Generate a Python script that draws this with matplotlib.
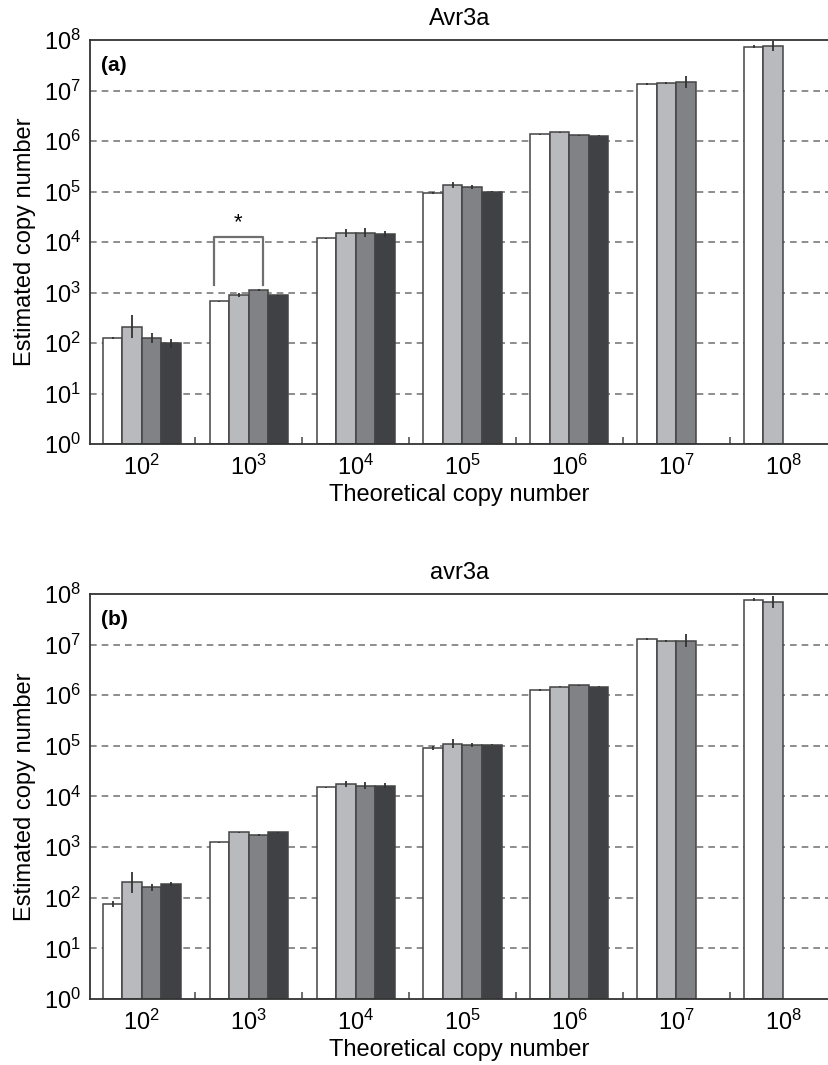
import numpy as np
import matplotlib
matplotlib.use("Agg")
import matplotlib.pyplot as plt
from matplotlib.ticker import FixedLocator, LogFormatterSciNotation, NullLocator

# ---------------- data ----------------
categories = ["$\\mathregular{10^{2}}$", "$\\mathregular{10^{3}}$", "$\\mathregular{10^{4}}$",
              "$\\mathregular{10^{5}}$", "$\\mathregular{10^{6}}$", "$\\mathregular{10^{7}}$",
              "$\\mathregular{10^{8}}$"]

nan = np.nan
# Panel (a) Avr3a
a_white = [126, 676, 1.20e4, 9.2e4, 1.35e6, 1.32e7, 7.4e7]
a_light = [209, 891, 1.52e4, 1.35e5, 1.48e6, 1.40e7, 7.7e7]
a_mid   = [126, 1120, 1.52e4, 1.25e5, 1.29e6, 1.49e7, nan]
a_dark  = [98, 880, 1.42e4, 1.00e5, 1.27e6, nan, nan]
# error half-widths in log10 units
a_white_err = [0.02, 0.01, 0.01, 0.02, 0.01, 0.02, 0.03]
a_light_err = [0.23, 0.04, 0.08, 0.06, 0.01, 0.02, 0.10]
a_mid_err   = [0.10, 0.02, 0.09, 0.04, 0.01, 0.12, nan]
a_dark_err  = [0.09, 0.01, 0.06, 0.01, 0.01, nan, nan]

# Panel (b) avr3a
b_white = [75, 1250, 1.52e4, 9.0e4, 1.28e6, 1.30e7, 7.7e7]
b_light = [199, 1960, 1.74e4, 1.11e5, 1.48e6, 1.20e7, 7.0e7]
b_mid   = [161, 1720, 1.62e4, 1.05e5, 1.58e6, 1.20e7, nan]
b_dark  = [184, 1950, 1.62e4, 1.05e5, 1.48e6, nan, nan]
b_white_err = [0.06, 0.01, 0.01, 0.04, 0.02, 0.02, 0.03]
b_light_err = [0.20, 0.01, 0.06, 0.08, 0.01, 0.02, 0.12]
b_mid_err   = [0.07, 0.02, 0.07, 0.04, 0.01, 0.12, nan]
b_dark_err  = [0.04, 0.01, 0.05, 0.01, 0.01, nan, nan]

# significance bracket (panel a): between white and mid-gray bar of 10^3 group
sig_group = 1
sig_top = 1.23e4
sig_leg_bottom = 1.4e3

colors = ["#ffffff", "#b9babd", "#818286", "#404144"]
edge = "#444444"

fig = plt.figure(figsize=(8.29, 10.65), dpi=100)
plt.rcParams["font.family"] = ["Liberation Sans", "DejaVu Sans"]

W = 0.183
offsets = [-1.5 * W, -0.5 * W, 0.5 * W, 1.5 * W]
FS = 17


def draw(ax, series, errs, title, label):
    x = np.arange(len(categories))
    for s, (vals, err, c, off) in enumerate(zip(series, errs, colors, offsets)):
        v = np.array(vals, dtype=float)
        e = np.array(err, dtype=float)
        m = ~np.isnan(v)
        ax.bar(x[m] + off, v[m], width=W, bottom=1, color=c, edgecolor=edge,
               linewidth=1.1, zorder=2)
        lo = v[m] - v[m] / 10 ** e[m]
        hi = v[m] * 10 ** e[m] - v[m]
        ax.errorbar(x[m] + off, v[m], yerr=[lo, hi], fmt="none", ecolor="#333333",
                    elinewidth=1.3, capsize=0, zorder=3)
    ax.set_yscale("log")
    ax.set_ylim(1, 1e8)
    ax.set_xlim(-0.49, 6.43)
    ax.yaxis.set_major_locator(FixedLocator([10.0 ** k for k in range(9)]))
    ax.yaxis.set_major_formatter(LogFormatterSciNotation())
    ax.yaxis.set_minor_locator(NullLocator())
    for k in range(1, 8):
        ax.axhline(10.0 ** k, color="#7a7a7a", linestyle=(0, (4, 3)), linewidth=1.2, zorder=1)
    ax.set_xticks(x)
    ax.set_xticklabels(categories)
    ax.set_xticks(x[:-1] + 0.5, minor=True)
    ax.tick_params(axis="x", which="major", length=0, labelsize=FS, pad=8)
    ax.tick_params(axis="x", which="minor", direction="in", length=5, width=1.2, color="#555555")
    ax.tick_params(axis="y", which="major", direction="in", length=0, labelsize=FS, pad=6)
    ax.spines["right"].set_visible(False)
    for sp in ["left", "bottom", "top"]:
        ax.spines[sp].set_linewidth(1.3)
        ax.spines[sp].set_color("#333333")
    ax.set_xlabel("Theoretical copy number", fontsize=FS, labelpad=3)
    ax.set_ylabel("Estimated copy number", fontsize=FS, labelpad=6)
    ax.set_title(title, fontsize=FS, pad=11)
    ax.text(0.015, 0.96, label, transform=ax.transAxes, fontsize=15, fontweight="bold",
            va="top", ha="left")


ax1 = fig.add_axes([0.108, 0.5831, 0.892, 0.3793])
draw(ax1, [a_white, a_light, a_mid, a_dark],
     [a_white_err, a_light_err, a_mid_err, a_dark_err], "Avr3a", "(a)")
xl, xr = sig_group - 0.328, sig_group + 0.131
ax1.plot([xl, xl, xr, xr], [sig_leg_bottom, sig_top, sig_top, sig_leg_bottom],
         color="#6f6f6f", linewidth=1.6, zorder=4)
ax1.text((xl + xr) / 2, sig_top * 1.2, "*", ha="center", va="bottom", fontsize=16)

ax2 = fig.add_axes([0.108, 0.0620, 0.892, 0.3803])
draw(ax2, [b_white, b_light, b_mid, b_dark],
     [b_white_err, b_light_err, b_mid_err, b_dark_err], "avr3a", "(b)")

fig.savefig("out.png", dpi=100)
